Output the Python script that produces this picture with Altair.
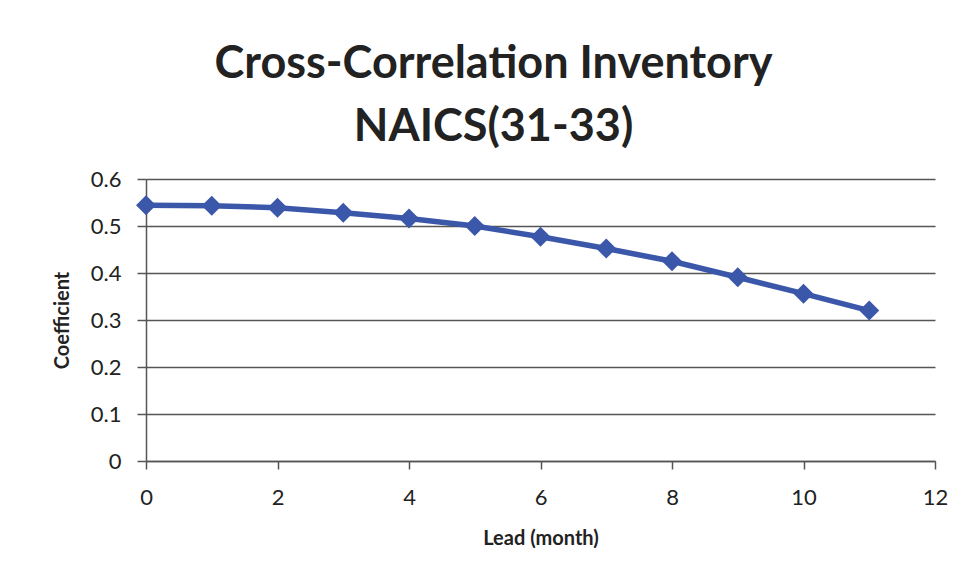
import altair as alt
import pandas as pd

lead = [0, 1, 2, 3, 4, 5, 6, 7, 8, 9, 10, 11]
coef = [0.544, 0.543, 0.539, 0.528, 0.516, 0.500, 0.477, 0.452, 0.425, 0.391, 0.356, 0.320]
x_ticks = [0, 2, 4, 6, 8, 10, 12]
y_ticks = [0, 0.1, 0.2, 0.3, 0.4, 0.5, 0.6]

df = pd.DataFrame({"lead": lead, "coef": coef})

FONT = "Lato"
BLUE = "#3B57AA"
GRID = "#555555"
TXT = "#222222"

x = alt.X("lead:Q", scale=alt.Scale(domain=[0, 12], nice=False),
          axis=alt.Axis(values=x_ticks, title="Lead (month)", grid=False, format="d",
                        labelFlush=False,
                        tickSize=8, tickColor=GRID, tickWidth=1.5,
                        domainColor=GRID, domainWidth=1.5,
                        labelPadding=18, titlePadding=20,
                        labelFont=FONT, labelFontSize=22, labelColor=TXT,
                        titleFont=FONT, titleFontSize=20, titleFontWeight="bold", titleColor=TXT))
y = alt.Y("coef:Q", scale=alt.Scale(domain=[0, 0.6], nice=False),
          axis=alt.Axis(values=y_ticks, title="Coefficient", grid=True,
                        labelFlush=False,
                        gridColor=GRID, gridWidth=1.5, gridOpacity=1,
                        tickSize=9, tickColor=GRID, tickWidth=1.5,
                        domainColor=GRID, domainWidth=1.5,
                        labelPadding=16, titlePadding=18,
                        labelFont=FONT, labelFontSize=22, labelColor=TXT,
                        titleFont=FONT, titleFontSize=20, titleFontWeight="bold", titleColor=TXT,
                        labelExpr="datum.value == 0 ? '0' : format(datum.value, '.1f')"))

line = alt.Chart(df).mark_line(color=BLUE, strokeWidth=5.5).encode(x=x, y=y)
pts = alt.Chart(df).mark_point(shape="diamond", filled=True, color=BLUE,
                               opacity=1, size=400).encode(x="lead:Q", y="coef:Q")

chart = (line + pts).properties(
    width=789, height=282,
    autosize=alt.AutoSizeParams(type="none"),
    padding={"left": 138, "top": 171, "right": 13, "bottom": 104},
    background="white",
    title=alt.Title(["Cross-Correlation Inventory", "NAICS(31-33)"],
                    anchor="middle", dx=-47, fontSize=45, font=FONT,
                    fontWeight="bold", color=TXT, lineHeight=63, offset=18),
).configure_view(stroke=None)

chart.save("out.html", embed_options={"renderer": "svg", "actions": False})
